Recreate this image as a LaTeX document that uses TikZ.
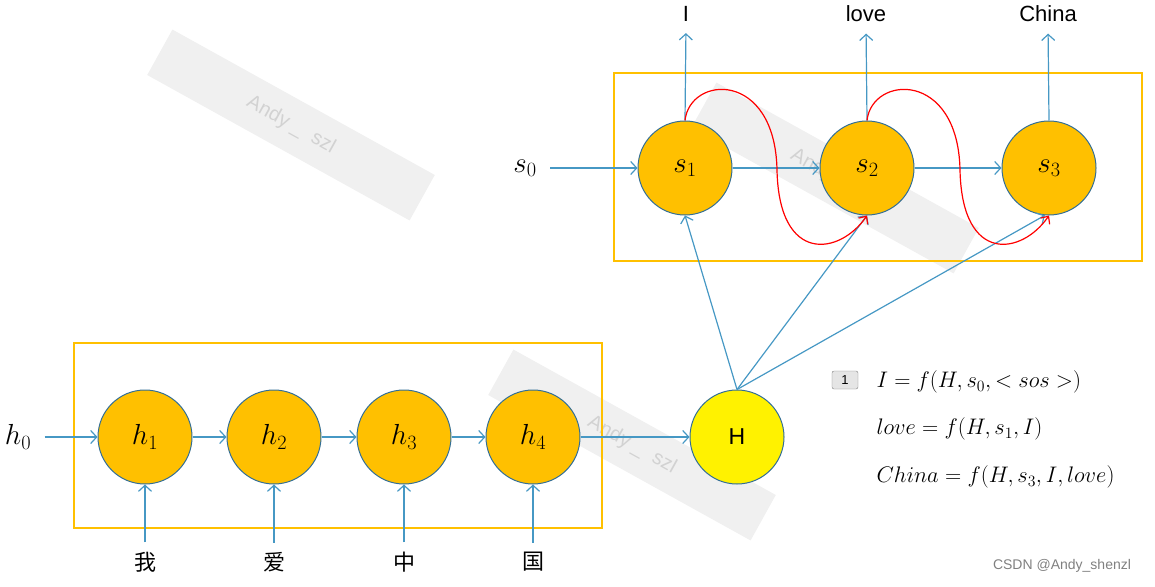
\RequirePackage{fix-cm}
\documentclass[tikz,border=0pt]{standalone}
\usepackage{amsmath, amssymb}
\usepackage{fontspec}
\newfontfamily\cjk{Noto Sans CJK SC}
\newfontfamily\arial{Liberation Sans}
\usepackage{tikz}
\usetikzlibrary{arrows.meta}

\definecolor{lineblue}{RGB}{70,152,196}
\definecolor{cellfill}{RGB}{255,192,0}
\definecolor{celledge}{RGB}{50,110,150}
\definecolor{boxgold}{RGB}{255,192,0}

\tikzset{
  cell/.style={circle, draw=celledge, fill=cellfill, line width=1pt,
    minimum size=94pt, inner sep=0pt, font=\fontsize{29}{32}\selectfont},
  flow/.style={draw=lineblue, line width=1.2pt, -{Straight Barb[length=6pt,width=13pt]}},
  loopback/.style={draw=red, line width=1.2pt, -{Straight Barb[length=6pt,width=11pt]}},
  wmark/.style={rotate=-29, fill=gray!12, minimum width=300pt, minimum height=52pt,
    text=gray!35, font=\arial\fontsize{20}{24}\selectfont},
  word/.style={font=\arial\fontsize{22}{26}\selectfont},
  hanzi/.style={font=\cjk\fontsize{22}{26}\selectfont},
  eqn/.style={anchor=west, font=\fontsize{22.5}{26}\selectfont}
}

\begin{document}
\begin{tikzpicture}[x=1pt, y=-1pt]
\useasboundingbox (0,0) rectangle (1155,586);
% watermarks
\node[wmark] (wm1) at (291,125) {Andy \_\ \ szl};
\node[wmark] (wm2) at (632,445) {Andy \_\ \ szl};
\node[wmark] (wm3) at (835,178) {Andy \_\ \ szl};

\draw[boxgold, line width=2pt] (74,343) rectangle (602,528);
\draw[boxgold, line width=2pt] (614,73) rectangle (1142,261);

% encoder
\node[cell] (h1) at (145,437) {$h_1$};
\node[cell] (h2) at (274,437) {$h_2$};
\node[cell] (h3) at (404,437) {$h_3$};
\node[cell] (h4) at (533,437) {$h_4$};
\node[cell, fill=yellow, font=\arial\fontsize{23}{27}\selectfont] (H) at (737,437) {H};
\node[font=\fontsize{29}{32}\selectfont] (h0) at (18,437) {$h_0$};
\node[hanzi] (x1) at (145,562) {我};
\node[hanzi] (x2) at (274,562) {爱};
\node[hanzi] (x3) at (404,562) {中};
\node[hanzi] (x4) at (533,562) {国};

\draw[flow, shorten <=10pt] (h0) -- (h1);
\draw[flow] (h1) -- (h2);
\draw[flow] (h2) -- (h3);
\draw[flow] (h3) -- (h4);
\draw[flow] (h4) -- (H);
\foreach \i in {1,...,4}
  \draw[flow, shorten <=6pt] (x\i.north) -- (h\i.south);

% decoder
\node[cell] (s1) at (685,168) {$s_1$};
\node[cell] (s2) at (867,168) {$s_2$};
\node[cell] (s3) at (1049,168) {$s_3$};
\node[font=\fontsize{29}{32}\selectfont] (s0) at (525,168) {$s_0$};
\node[word] (y1) at (686,14) {I};
\node[word] (y2) at (866,14) {love};
\node[word] (y3) at (1048,14) {China};

\draw[flow, shorten <=10pt] (s0) -- (s1);
\draw[flow] (s1) -- (s2);
\draw[flow] (s2) -- (s3);
\foreach \i in {1,2,3}
  \draw[flow, shorten >=8pt] (s\i.north) -- (y\i.south);
\draw[flow] (H.north) -- (s1.south);
\draw[flow] (H.north) -- (s2.south);
\draw[flow] (H.north) -- (s3.-95);

\draw[loopback] (s1.north) .. controls (690,75) and (775,70) .. (777,170)
  .. controls (779,265) and (840,255) .. (s2.south);
\draw[loopback] (s2.north) .. controls (872,75) and (958,70) .. (960,170)
  .. controls (962,265) and (1022,255) .. (s3.south);

% equations
\node[draw=gray, fill=gray!20, rounded corners=2pt, minimum width=26pt, minimum height=18pt,
  inner sep=0pt, font=\arial\fontsize{13}{15}\selectfont] (tag) at (845,380) {1};
\node[eqn] (eq1) at (873,382) {$I=f(H,s_0,<sos>)$};
\node[eqn] (eq2) at (873,429) {$love=f(H,s_1,I)$};
\node[eqn] (eq3) at (873,477) {$China=f(H,s_3,I,love)$};

\node[text=gray, font=\arial\fontsize{14}{16}\selectfont] (csdn) at (1062,566) {CSDN @Andy\_shenzl};
\end{tikzpicture}
\end{document}
